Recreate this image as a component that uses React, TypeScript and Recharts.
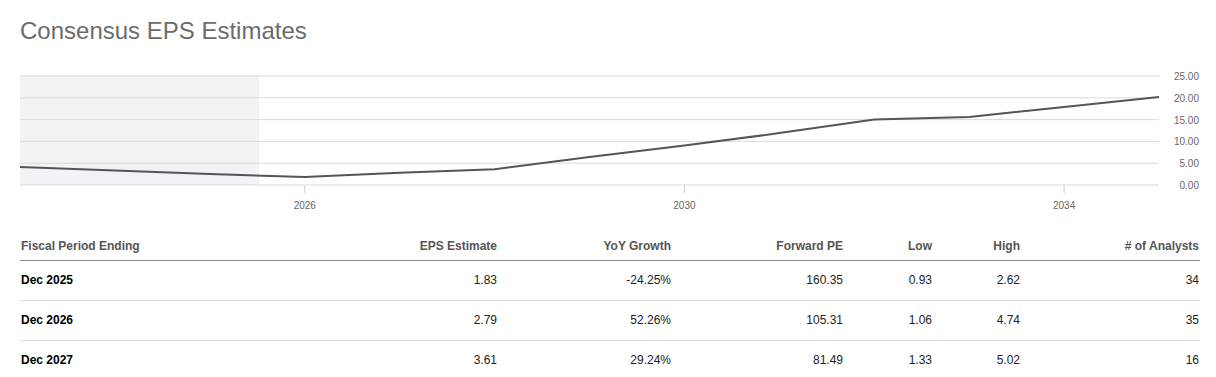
import { LineChart, Line, XAxis, YAxis, CartesianGrid, ReferenceArea } from "recharts"

// fiscal years ending in December; first four are reported, the rest consensus
const fiscalYears = [2022, 2023, 2024, 2025, 2026, 2027, 2028, 2029, 2030, 2031, 2032, 2033, 2034]
const epsValues = [4.15, 3.3, 2.5, 1.83, 2.79, 3.61, 6.4, 9.05, 11.9, 15.0, 15.6, 17.9, 20.2]

const xTicks = [2026, 2030, 2034]
const yTicks = [0, 5, 10, 15, 20, 25]
const todayX = 2025.52

// table rows
const periods = ["Dec 2025", "Dec 2026", "Dec 2027"]
const epsEstimate = ["1.83", "2.79", "3.61"]
const yoyGrowth = ["-24.25%", "52.26%", "29.24%"]
const forwardPE = ["160.35", "105.31", "81.49"]
const lowEst = ["0.93", "1.06", "1.33"]
const highEst = ["2.62", "4.74", "5.02"]
const analysts = ["34", "35", "16"]

const headers = ["Fiscal Period Ending", "EPS Estimate", "YoY Growth", "Forward PE", "Low", "High", "# of Analysts"]
const colWidths = [310, 168, 174, 172, 89, 88, 179]

const font = "'Liberation Sans', Arial, sans-serif"

const chartData = fiscalYears.map((yr, i) => ({ x: yr + 1, eps: epsValues[i] }))

function RightTick({ y, payload }: any) {
  return (
    <text x={1199} y={y} dy={4} textAnchor="end" fontSize={10} fill="#666" fontFamily={font}>
      {Number(payload.value).toFixed(2)}
    </text>
  )
}

export default function App() {
  const rows = periods.map((p, i) => [p, epsEstimate[i], yoyGrowth[i], forwardPE[i], lowEst[i], highEst[i], analysts[i]])

  return (
    <div style={{ position: "relative", width: 1216, height: 377, fontFamily: font, background: "#fff", overflow: "hidden" }}>
      <style>{`body{margin:0}`}</style>
      <div style={{ position: "absolute", left: 20, top: 17, fontSize: 24, color: "#6b6b6b" }}>
        Consensus EPS Estimates
      </div>

      <div style={{ position: "absolute", left: 0, top: 56 }}>
        <LineChart width={1216} height={164} data={chartData} margin={{ top: 20, right: 0, bottom: 0, left: 20 }}>
          <CartesianGrid horizontal vertical={false} stroke="#dadada" />
          {/* translucent so the grid lines stay visible through the shaded past period */}
          <ReferenceArea x1={2023} x2={todayX} y1={0} y2={25} fill="#d4d7e4" fillOpacity={0.3} stroke="none" ifOverflow="hidden" />
          <XAxis
            dataKey="x"
            type="number"
            domain={[2023, 2035]}
            ticks={xTicks}
            interval={0}
            allowDataOverflow
            axisLine={false}
            tickLine={{ stroke: "#cccccc" }}
            tickSize={8}
            tickMargin={9}
            height={35}
            tick={{ fontSize: 10, fill: "#666", fontFamily: font }}
          />
          <YAxis
            orientation="right"
            domain={[0, 25]}
            ticks={yTicks}
            interval={0}
            width={57}
            axisLine={false}
            tickLine={false}
            tick={<RightTick />}
          />
          <Line
            type="linear"
            dataKey="eps"
            stroke="#555555"
            strokeWidth={2}
            dot={false}
            activeDot={false}
            isAnimationActive={false}
          />
        </LineChart>
      </div>

      <table
        style={{
          position: "absolute",
          left: 20,
          top: 232,
          width: 1180,
          borderCollapse: "collapse",
          tableLayout: "fixed",
          fontSize: 12,
        }}
      >
        <colgroup>
          {colWidths.map((w, i) => (
            <col key={i} style={{ width: w }} />
          ))}
        </colgroup>
        <thead>
          <tr style={{ height: 28, borderBottom: "1px solid #8a8a8a" }}>
            {headers.map((h, i) => (
              <th
                key={i}
                style={{
                  padding: i === 0 ? "0 0 0 1px" : "0 1px 0 0",
                  textAlign: i === 0 ? "left" : "right",
                  color: "#555",
                  fontWeight: 700,
                  whiteSpace: "nowrap",
                }}
              >
                {h}
              </th>
            ))}
          </tr>
        </thead>
        <tbody>
          {rows.map((r, ri) => (
            <tr key={ri} style={{ height: 40, borderBottom: ri < rows.length - 1 ? "1px solid #dedede" : "none" }}>
              {r.map((c, ci) => (
                <td
                  key={ci}
                  style={{
                    padding: ci === 0 ? "0 0 0 1px" : "0 1px 0 0",
                    textAlign: ci === 0 ? "left" : "right",
                    color: ci === 0 ? "#000" : "#222",
                    fontWeight: ci === 0 ? 700 : 400,
                    whiteSpace: "nowrap",
                  }}
                >
                  {c}
                </td>
              ))}
            </tr>
          ))}
        </tbody>
      </table>
    </div>
  )
}
